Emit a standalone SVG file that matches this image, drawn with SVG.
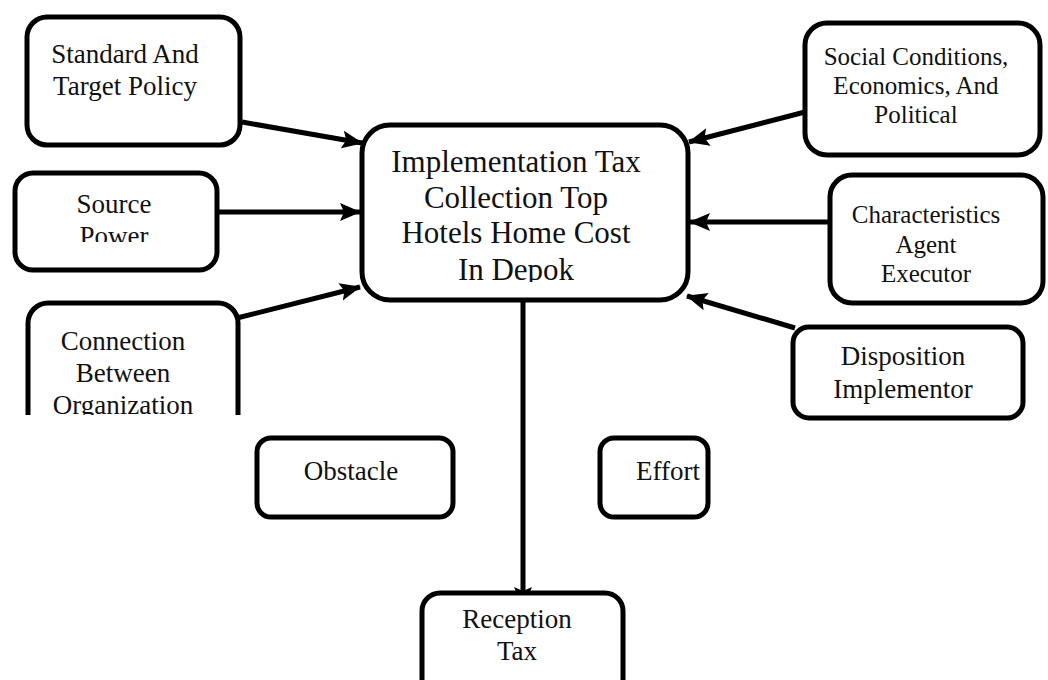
<svg xmlns="http://www.w3.org/2000/svg" width="1048" height="680" viewBox="0 0 1048 680">
<style>
.box{fill:#fff;stroke:#000;stroke-width:5}
.t{font-family:"Liberation Serif","Times New Roman",serif;font-size:27px;fill:#111;text-anchor:middle}
.s{font-size:25px}
.m{font-size:31px}
.c{stroke:#000;stroke-width:5;fill:none}
</style>
<defs>
<marker id="ah" markerUnits="userSpaceOnUse" markerWidth="24" markerHeight="20" refX="20" refY="9" orient="auto">
<path d="M0,0 L21,9 L0,18 L4,9 Z" fill="#000"/>
</marker>
<clipPath id="cpSource"><rect x="0" y="160" width="260" height="82"/></clipPath>
<clipPath id="cpMain"><rect x="340" y="100" width="360" height="182"/></clipPath>
<clipPath id="cpConn"><rect x="0" y="290" width="260" height="125"/></clipPath>
</defs>
<rect width="1048" height="680" fill="#fff"/>
<g id="connectors">
<line class="c" x1="242" y1="122" x2="362" y2="143" marker-end="url(#ah)"/>
<line class="c" x1="217" y1="212" x2="360" y2="212" marker-end="url(#ah)"/>
<line class="c" x1="237" y1="318" x2="360" y2="287" marker-end="url(#ah)"/>
<line class="c" x1="805" y1="112" x2="689" y2="142" marker-end="url(#ah)"/>
<line class="c" x1="830" y1="222" x2="690" y2="222" marker-end="url(#ah)"/>
<line class="c" x1="795" y1="328" x2="687" y2="296" marker-end="url(#ah)"/>
<line class="c" x1="523" y1="300" x2="523" y2="607" marker-end="url(#ah)"/>
</g>
<g id="n-standard">
<rect class="box" x="27" y="17" width="213" height="128" rx="20"/>
<text class="t" x="125" y="63">Standard And</text>
<text class="t" x="125" y="95">Target Policy</text>
</g>
<g id="n-source">
<rect class="box" x="15" y="173" width="202" height="97" rx="18"/>
<g clip-path="url(#cpSource)">
<text class="t" x="114" y="213">Source</text>
<text class="t" x="114" y="245">Power</text>
</g>
</g>
<g id="n-connection">
<g clip-path="url(#cpConn)">
<rect class="box" x="28" y="303" width="210" height="140" rx="20"/>
<text class="t" x="123" y="350">Connection</text>
<text class="t" x="123" y="382">Between</text>
<text class="t" x="123" y="414">Organization</text>
</g>
</g>
<g id="n-main">
<rect class="box" x="362" y="125" width="326" height="175" rx="28"/>
<g clip-path="url(#cpMain)">
<text class="t m" x="516" y="172">Implementation Tax</text>
<text class="t m" x="516" y="208">Collection Top</text>
<text class="t m" x="516" y="243">Hotels Home Cost</text>
<text class="t m" x="516" y="280">In Depok</text>
</g>
</g>
<g id="n-social">
<rect class="box" x="805" y="23" width="235" height="132" rx="22"/>
<text class="t s" x="916" y="65">Social Conditions,</text>
<text class="t s" x="916" y="94">Economics, And</text>
<text class="t s" x="916" y="123">Political</text>
</g>
<g id="n-characteristics">
<rect class="box" x="830" y="175" width="213" height="128" rx="22"/>
<text class="t s" x="926" y="223">Characteristics</text>
<text class="t s" x="926" y="253">Agent</text>
<text class="t s" x="926" y="282">Executor</text>
</g>
<g id="n-disposition">
<rect class="box" x="793" y="327" width="230" height="91" rx="16"/>
<text class="t" x="903" y="365">Disposition</text>
<text class="t" x="903" y="398">Implementor</text>
</g>
<g id="n-obstacle">
<rect class="box" x="257" y="438" width="196" height="79" rx="14"/>
<text class="t" x="351" y="480">Obstacle</text>
</g>
<g id="n-effort">
<rect class="box" x="600" y="438" width="108" height="79" rx="14"/>
<text class="t" x="668" y="480">Effort</text>
</g>
<g id="n-reception">
<rect class="box" x="422" y="593" width="201" height="110" rx="18"/>
<text class="t" x="517" y="628">Reception</text>
<text class="t" x="517" y="660">Tax</text>
</g>
</svg>
